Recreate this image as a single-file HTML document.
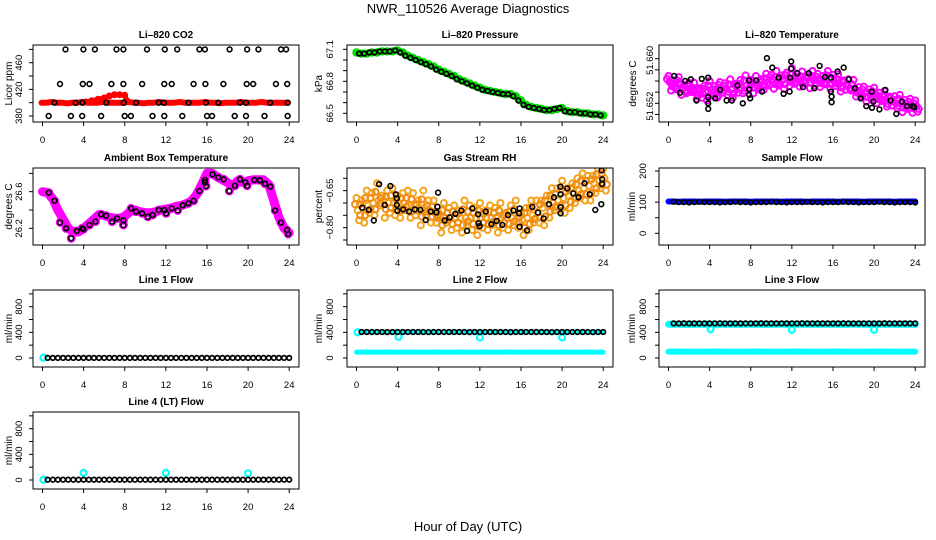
<!DOCTYPE html>
<html><head><meta charset="utf-8"><title>NWR_110526 Average Diagnostics</title>
<style>
html,body{margin:0;padding:0;background:#fff;}
svg{display:block;font-family:"Liberation Sans",Arial,sans-serif;}
</style></head>
<body>
<svg id="chart" width="936" height="540" viewBox="0 0 936 540" xmlns="http://www.w3.org/2000/svg">
<rect x="0" y="0" width="936" height="540" fill="#fff"/>
<text x="468" y="13" font-size="13" text-anchor="middle">NWR_110526  Average Diagnostics</text>
<text x="468" y="531" font-size="13" text-anchor="middle">Hour of Day (UTC)</text>
</svg>
<script>
// ---------- data ----------
const halfHours = [0,0.5,1,1.5,2,2.5,3,3.5,4,4.5,5,5.5,6,6.5,7,7.5,8,8.5,9,9.5,10,10.5,11,11.5,12,12.5,13,13.5,14,14.5,15,15.5,16,16.5,17,17.5,18,18.5,19,19.5,20,20.5,21,21.5,22,22.5,23,23.5,24];
const flowHours = [0.5,1,1.5,2,2.5,3,3.5,4,4.5,5,5.5,6,6.5,7,7.5,8,8.5,9,9.5,10,10.5,11,11.5,12,12.5,13,13.5,14,14.5,15,15.5,16,16.5,17,17.5,18,18.5,19,19.5,20,20.5,21,21.5,22,22.5,23,23.5,24];
const xTicks = [0,4,8,12,16,20,24];

// CO2
const co2RedBase = [400,400,401,400,400,399,400,400,401,400,400,400,401,400,400,400,400,401,400,400,399,400,400,401,400,400,400,401,400,400,400,400,401,400,400,399,400,400,400,401,400,400,400,401,400,400,400,400,400];
const co2BumpHours = [4.2,4.8,5.4,6,6.5,7,7.5,8,8.2];
const co2BumpVals = [401,403,405,407,410,412,412,411,403];
const co2BlackHours = [2.24,3.98,5.1,7.2,7.87,10.17,11.9,13.1,15.26,15.8,18.2,19.9,21,23.2,23.7, 1.7,3.92,4.57,6.7,7.87,9.7,11.85,12.57,14.7,15.85,17.6,19.86,20.5,22.7,23.8, 1.16,3.23,3.88,6.2,7.9,9.1,11.3,11.8,14.2,15.9,17.1,19.2,19.8,22.15,23.85, 0.6,2.76,3.86,5.7,8.0,8.6,10.7,11.85,13.6,16,16.5,18.7,19.8,21.6,23.85];
const co2BlackVals = [480,480,480,480,480,480,480,480,480,480,480,480,480,480,480, 428,428,428,428,428,428,428,428,428,428,428,428,428,428,428, 400,400,400,400,400,400,400,400,400,400,400,400,400,400,400, 380,380,380,380,380,380,380,380,380,380,380,380,380,380,380];

// Pressure
const presVals = [67.07,67.06,67.06,67.07,67.07,67.08,67.08,67.08,67.09,67.07,67.04,67.02,67.00,66.98,66.96,66.94,66.91,66.89,66.87,66.85,66.82,66.80,66.78,66.76,66.74,66.72,66.71,66.70,66.69,66.68,66.68,66.66,66.62,66.58,66.56,66.55,66.54,66.53,66.53,66.54,66.55,66.52,66.51,66.51,66.50,66.50,66.49,66.49,66.48];

// Li-820 temperature
const tempA = [51.6569,51.6561,51.6567,51.6553,51.6557,51.6557,51.6547,51.6552,51.6560,51.6551,51.6558,51.6556,51.6563,51.6555,51.6562,51.6570,51.6562,51.6569,51.6563,51.6573,51.6571,51.6578,51.6570,51.6575,51.6583,51.6573,51.6577,51.6569,51.6578,51.6573,51.6569,51.6578,51.6571,51.6572,51.6561,51.6563,51.6562,51.6549,51.6550,51.6545,51.6548,51.6539,51.6542,51.6532,51.6533,51.6535,51.6526,51.6528,51.6525];
const tempB = [51.6543,51.6545,51.6535,51.6538,51.6540,51.6528,51.6530,51.6525,51.6534,51.6530,51.6539,51.6535,51.6530,51.6539,51.6538,51.6544,51.6538,51.6545,51.6544,51.6552,51.6546,51.6552,51.6546,51.6551,51.6555,51.6550,51.6556,51.6547,51.6552,51.6549,51.6554,51.6546,51.6551,51.6541,51.6544,51.6543,51.6532,51.6531,51.6523,51.6527,51.6520,51.6524,51.6514,51.6516,51.6511,51.6504,51.6510,51.6503,51.6505];
const tempC = [51.6558,51.6550,51.6555,51.6543,51.6546,51.6539,51.6544,51.6540,51.6544,51.6538,51.6548,51.6546,51.6545,51.6552,51.6547,51.6552,51.6558,51.6551,51.6559,51.6557,51.6563,51.6556,51.6562,51.6566,51.6561,51.6564,51.6560,51.6567,51.6561,51.6563,51.6556,51.6563,51.6560,51.6555,51.6559,51.6547,51.6546,51.6536,51.6540,51.6535,51.6535,51.6529,51.6524,51.6530,51.6520,51.6521,51.6515,51.6518,51.6515];
const tempBlackHours = [0.55,1.13,1.62,2.17,2.72,3.24,3.86,3.86,3.86,3.86,5.03,4.54,5.65,6.17,6.7,7.23,7.85,7.85,7.85,7.95,8.53,9.1,9.57,10.1,10.71,11.2,11.78,11.84,11.94,11.94,12.52,13.08,13.63,14.18,14.7,15.22,15.8,15.8,15.87,15.87,16.45,17.04,17.55,18.14,18.7,19.24,19.77,19.8,19.93,20.52,21.1,21.6,22.16,22.7,23.2,23.76,23.9];
const tempBlackVals = [51.6569,51.6539,51.6560,51.6563,51.6525,51.6564,51.6566,51.6531,51.6520,51.6510,51.6544,51.6529,51.6525,51.6525,51.6552,51.6520,51.6561,51.6545,51.6535,51.6529,51.6561,51.6541,51.6601,51.6584,51.6566,51.6537,51.6541,51.6566,51.6582,51.6595,51.6574,51.6549,51.6574,51.6547,51.6587,51.6567,51.6566,51.6541,51.6532,51.6522,51.6577,51.6584,51.6563,51.6547,51.6529,51.6515,51.6541,51.6512,51.6523,51.6509,51.6544,51.6525,51.6501,51.6523,51.6515,51.6515,51.6513];

// Ambient box temperature
const ambBand = [26.60,26.59,26.52,26.40,26.30,26.20,26.16,26.16,26.20,26.25,26.30,26.35,26.34,26.32,26.31,26.31,26.33,26.38,26.40,26.38,26.37,26.37,26.38,26.40,26.41,26.42,26.44,26.45,26.47,26.50,26.57,26.68,26.80,26.80,26.76,26.73,26.70,26.66,26.72,26.70,26.72,26.73,26.73,26.73,26.68,26.50,26.32,26.20,26.15];
const ambBlackHours = [0.62,1.17,1.72,2.3,2.79,3.34,3.86,3.98,4.57,5.15,5.7,6.19,6.77,7.26,7.87,7.87,8.62,9.1,9.69,10.24,10.72,11.3,11.86,12.02,12.57,13.15,13.63,14.19,14.71,15.26,15.81,15.81,15.9,16.55,17.1,17.62,18.17,18.72,19.21,19.73,19.9,20.6,21.15,21.64,22.16,22.64,23.2,23.78,23.9];
const ambBlackVals = [26.589,26.502,26.265,26.2,26.091,26.171,26.2,26.189,26.236,26.273,26.353,26.338,26.273,26.309,26.287,26.236,26.418,26.382,26.364,26.327,26.345,26.4,26.4,26.364,26.418,26.396,26.451,26.473,26.502,26.607,26.727,26.702,26.662,26.789,26.756,26.735,26.607,26.665,26.735,26.702,26.665,26.727,26.724,26.687,26.655,26.396,26.262,26.182,26.138];

// Gas stream RH
const rhA = [-0.68,-0.69,-0.65,-0.66,-0.62,-0.67,-0.65,-0.64,-0.67,-0.66,-0.65,-0.66,-0.69,-0.65,-0.69,-0.69,-0.74,-0.70,-0.72,-0.71,-0.73,-0.69,-0.71,-0.72,-0.70,-0.73,-0.71,-0.72,-0.70,-0.74,-0.71,-0.69,-0.74,-0.72,-0.69,-0.69,-0.69,-0.67,-0.64,-0.64,-0.61,-0.64,-0.62,-0.60,-0.58,-0.59,-0.59,-0.56,-0.56];
const rhB = [-0.77,-0.78,-0.74,-0.75,-0.71,-0.76,-0.74,-0.75,-0.76,-0.73,-0.76,-0.75,-0.79,-0.75,-0.78,-0.78,-0.82,-0.78,-0.81,-0.80,-0.82,-0.79,-0.81,-0.83,-0.80,-0.81,-0.79,-0.82,-0.80,-0.81,-0.79,-0.80,-0.83,-0.81,-0.78,-0.78,-0.79,-0.76,-0.73,-0.73,-0.74,-0.72,-0.70,-0.68,-0.69,-0.69,-0.66,-0.64,-0.65];
const rhC = [-0.73,-0.72,-0.71,-0.70,-0.69,-0.69,-0.70,-0.70,-0.70,-0.70,-0.71,-0.71,-0.72,-0.72,-0.73,-0.74,-0.76,-0.76,-0.76,-0.76,-0.76,-0.76,-0.76,-0.76,-0.76,-0.76,-0.76,-0.76,-0.76,-0.76,-0.76,-0.76,-0.77,-0.76,-0.75,-0.74,-0.72,-0.71,-0.70,-0.69,-0.68,-0.67,-0.66,-0.65,-0.64,-0.63,-0.62,-0.61,-0.60];
const rhBlackHours = [0.55,1.2,1.68,2.2,2.75,3.3,3.82,3.92,3.92,3.98,4.54,5.12,5.67,6.22,6.73,7.22,7.77,7.87,7.94,8.58,9.07,9.62,10.2,10.76,11.27,11.83,11.89,11.98,12.57,13.12,13.64,14.19,14.74,15.26,15.81,15.87,15.87,16.59,17.1,17.66,18.2,18.73,19.21,19.83,19.85,19.85,19.85,20.5,21.09,21.6,22.19,22.68,23.23,23.81,23.88,23.9,23.84];
const rhBlackVals = [-0.719,-0.728,-0.771,-0.624,-0.708,-0.631,-0.665,-0.681,-0.708,-0.732,-0.726,-0.735,-0.726,-0.728,-0.769,-0.735,-0.738,-0.715,-0.658,-0.771,-0.759,-0.744,-0.731,-0.813,-0.722,-0.746,-0.782,-0.794,-0.735,-0.786,-0.773,-0.789,-0.749,-0.731,-0.742,-0.722,-0.796,-0.811,-0.716,-0.739,-0.763,-0.705,-0.677,-0.634,-0.665,-0.717,-0.742,-0.641,-0.661,-0.677,-0.620,-0.665,-0.728,-0.705,-0.623,-0.604,-0.568];

// Sample flow
const sampleBand = [102,102,101,102,102,102,101,102,102,102,102,101,102,102,102,102,101,102,102,102,102,102,101,102,102,102,102,101,102,102,102,102,102,101,102,102,102,102,101,102,102,102,102,102,101,102,102,102,102];
const sampleBlack = [101,100,100,99,100,101,100,100,100,99,100,100,101,100,100,99,100,100,100,101,100,100,99,100,100,100,101,100,100,99,100,100,100,101,100,100,99,100,100,100,101,100,100,99,100,100,100,99];

// Line flows
const line1Black = [2,2,2,2,2,2,2,2,2,2,2,2,2,2,2,2,2,2,2,2,2,2,2,2,2,2,2,2,2,2,2,2,2,2,2,2,2,2,2,2,2,2,2,2,2,2,2,2];
const line1CyanHours = [0.1];
const line1CyanVals = [4];
const line2Black = [405,405,406,405,405,404,405,405,405,406,405,405,405,404,405,405,405,406,405,405,405,404,405,405,405,406,405,405,405,404,405,405,405,406,405,405,405,404,405,405,405,406,405,405,405,404,405,405];
const line2CyanLow = [92,92,93,92,92,92,93,92,92,92,93,92,92,92,92,93,92,92,92,92,93,92,92,92,92,93,92,92,92,92,93,92,92,92,92,93,92,92,92,92,93,92,92,92,92,93,92,92,92];
const line2CyanHours = [0.1,4.1,12.0,20.0];
const line2CyanVals = [400,330,320,320];
const line3Black = [540,540,541,540,540,539,540,540,540,541,540,540,540,539,540,540,540,541,540,540,540,539,540,540,540,541,540,540,540,539,540,540,540,541,540,540,540,539,540,540,540,541,540,540,540,539,540,540];
const line3CyanHigh = [525,526,525,525,524,525,526,525,525,524,525,526,525,525,524,525,526,525,525,524,525,526,525,525,524,525,526,525,525,524,525,526,525,525,524,525,526,525,525,524,525,526,525,525,524,525,526,525,525];
const line3CyanLow = [100,100,101,100,100,99,100,100,100,101,100,100,100,99,100,100,100,101,100,100,100,99,100,100,100,101,100,100,100,99,100,100,100,101,100,100,100,99,100,100,100,101,100,100,100,99,100,100,100];
const line3CyanHours = [4.1,12.0,20.0];
const line3CyanVals = [450,440,440];
const line4Black = [4,4,4,4,4,4,4,4,4,4,4,4,4,4,4,4,4,4,4,4,4,4,4,4,4,4,4,4,4,4,4,4,4,4,4,4,4,4,4,4,4,4,4,4,4,4,4,4];
const line4CyanHours = [0.1,4.0,12.0,20.0];
const line4CyanVals = [4,110,110,105];

// ---------- layout ----------
const NS = 'http://www.w3.org/2000/svg';
const svg = document.getElementById('chart');
const rowTop = [45,168,290,412];
const colLeft = [33,347,659];
const PW = 266, PH = 77;

function el(tag, attrs, parent){
  const e = document.createElementNS(NS, tag);
  for (const k in attrs) e.setAttribute(k, attrs[k]);
  (parent || svg).appendChild(e);
  return e;
}

function makePanel(p){
  const g = el('g', {});
  
  
  const L = colLeft[p.c], T = rowTop[p.r], B = T + PH;
  p.g = g;
  p.x = h => L + 9.5 + h * 10.28;
  p.y = v => T + p.y1 + (v - p.v1) * (p.y2 - p.y1) / (p.v2 - p.v1);
  const cp = el('clipPath', {id: 'clip-' + p.name}, g);
  el('rect', {x: L, y: T, width: PW, height: PH}, cp);
  p.plot = el('g', {'clip-path': 'url(#clip-' + p.name + ')'}, g);
  
  
  const box = el('rect', {x: L, y: T, width: PW, height: PH, fill: 'none', stroke: '#000', 'stroke-width': 1}, g);
  
  
  const title = el('text', {x: L + PW / 2, y: T - 7, 'font-size': 10, 'font-weight': 'bold', 'text-anchor': 'middle'}, g);
  title.textContent = p.title;
  
  
  xTicks.forEach(t => {
    const x = p.x(t);
    const tk = el('line', {x1: x, x2: x, y1: B, y2: B + 4, stroke: '#000', 'stroke-width': 1}, g);
    
    
    const lb = el('text', {x: x, y: B + 21, 'font-size': 9.5, 'text-anchor': 'middle'}, g);
    lb.textContent = String(t);
    
    
  });
  p.ticks.forEach(t => {
    const y = p.y(t);
    const tk = el('line', {x1: L - 4, x2: L, y1: y, y2: y, stroke: '#000', 'stroke-width': 1}, g);
    
    
  });
  p.labels.forEach((lv, i) => {
    const y = p.y(lv);
    const lb = el('text', {transform: 'translate(' + (L - p.labOff) + ',' + y + ') rotate(-90)', 'font-size': 9.5, 'text-anchor': 'middle'}, g);
    lb.textContent = p.labelText[i];
    
    
  });
  const yt = el('text', {transform: 'translate(' + (L - p.titleOff) + ',' + (T + PH / 2) + ') rotate(-90)', 'font-size': 10, 'text-anchor': 'middle'}, g);
  yt.textContent = p.ylab;
  
  
  return p;
}

function band(p, hours, vals, color, w, name){
  const pts = hours.map((h, i) => p.x(h).toFixed(1) + ',' + p.y(vals[i]).toFixed(1)).join(' ');
  const pl = el('polyline', {points: pts, fill: 'none', stroke: color, 'stroke-width': w, 'stroke-linejoin': 'round', 'stroke-linecap': 'round'}, p.plot);
  
  
}
function points(p, hours, vals, color, r, sw, name){
  hours.forEach((h, i) => {
    const c = el('circle', {cx: p.x(h).toFixed(1), cy: p.y(vals[i]).toFixed(1), r: r, fill: 'none', stroke: color, 'stroke-width': sw}, p.plot);
    
    
  });
}

// ---------- panels ----------
const pCO2 = makePanel({name: 'co2', r: 0, c: 0, title: 'Li\u2013820 CO2', ylab: 'Licor ppm', v1: 380, y1: 71, v2: 460, y2: 17.7,
  ticks: [380,400,420,440,460,480], labels: [380,420,460], labelText: ['380','420','460'], labOff: 11, titleOff: 21});
band(pCO2, halfHours.map(h => h * 0.995 - 0.1), co2RedBase, '#ff0000', 6, 'co2-red-series');
band(pCO2, co2BumpHours, co2BumpVals, '#ff0000', 5, 'co2-red-bump');
points(pCO2, co2BumpHours, co2BumpVals, '#ff0000', 2.5, 2, 'co2-red-point');
points(pCO2, co2BlackHours, co2BlackVals, '#000', 2.4, 1.6, 'co2-black-point');

const pPres = makePanel({name: 'pressure', r: 0, c: 1, title: 'Li\u2013820 Pressure', ylab: 'kPa', v1: 67.1, y1: 4.3, v2: 66.5, y2: 68.3,
  ticks: [66.5,66.6,66.7,66.8,66.9,67.0,67.1], labels: [66.5,66.8,67.1], labelText: ['66.5','66.8','67.1'], labOff: 14, titleOff: 25});
band(pPres, halfHours, presVals, '#00e000', 6, 'pressure-green-series');
points(pPres, halfHours, presVals, '#00e000', 3.2, 2, 'pressure-green-point');
points(pPres, flowHours.map(h => h - 0.25), presVals.slice(1), '#000', 2.3, 1.8, 'pressure-black-point');

const pTemp = makePanel({name: 'li820-temperature', r: 0, c: 2, title: 'Li\u2013820 Temperature', ylab: 'degrees C', v1: 51.660, y1: 13.7, v2: 51.652, y2: 58.3,
  ticks: [51.650,51.652,51.654,51.656,51.658,51.660], labels: [51.6515,51.6597], labelText: ['51.652','51.660'], labOff: 6, titleOff: 23});
points(pTemp, halfHours, tempA, '#ff00ff', 3, 2, 'temperature-magenta-point');
points(pTemp, halfHours.map(h => h + 0.25), tempB, '#ff00ff', 3, 2, 'temperature-magenta-point');
points(pTemp, halfHours.map(h => h + 0.12), tempC, '#ff00ff', 3, 2, 'temperature-magenta-point');
points(pTemp, halfHours.map(h => h - 0.15), tempC.map((v, i) => (v + tempA[i]) / 2), '#ff00ff', 3, 2, 'temperature-magenta-point');
points(pTemp, halfHours.map(h => h + 0.35), tempC.map((v, i) => (v + tempB[i]) / 2), '#ff00ff', 3, 2, 'temperature-magenta-point');
points(pTemp, tempBlackHours, tempBlackVals, '#000', 2.4, 1.6, 'temperature-black-point');

const pAmb = makePanel({name: 'ambient-box-temperature', r: 1, c: 0, title: 'Ambient Box Temperature', ylab: 'degrees C', v1: 26.6, y1: 23.67, v2: 26.2, y2: 60.33,
  ticks: [26.2,26.4,26.6,26.8], labels: [26.2,26.6], labelText: ['26.2','26.6'], labOff: 11, titleOff: 21});
band(pAmb, halfHours, ambBand, '#ff00ff', 9, 'ambient-magenta-series');
points(pAmb, ambBlackHours, ambBlackVals, '#ff00ff', 3.5, 2, 'ambient-magenta-point');
points(pAmb, ambBlackHours, ambBlackVals, '#000', 2.4, 1.6, 'ambient-black-point');

const pRH = makePanel({name: 'gas-stream-rh', r: 1, c: 1, title: 'Gas Stream RH', ylab: 'percent', v1: -0.60, y1: 10.3, v2: -0.85, y2: 72,
  ticks: [-0.85,-0.80,-0.75,-0.70,-0.65,-0.60], labels: [-0.80,-0.65], labelText: ['\u22120.80','\u22120.65'], labOff: 14, titleOff: 25});
points(pRH, halfHours, rhA, '#f4a21a', 3, 2, 'rh-orange-point');
points(pRH, halfHours.map(h => h + 0.25), rhB, '#f4a21a', 3, 2, 'rh-orange-point');
points(pRH, halfHours.map(h => h + 0.12), rhC, '#f4a21a', 3, 2, 'rh-orange-point');
points(pRH, halfHours.map(h => h - 0.15), rhC.map((v, i) => (v + rhA[i]) / 2), '#f08a10', 3, 2, 'rh-orange-point');
points(pRH, halfHours.map(h => h + 0.35), rhC.map((v, i) => (v + rhB[i]) / 2), '#f08a10', 3, 2, 'rh-orange-point');
points(pRH, rhBlackHours, rhBlackVals, '#000', 2.4, 1.6, 'rh-black-point');

const pSample = makePanel({name: 'sample-flow', r: 1, c: 2, title: 'Sample Flow', ylab: 'ml/min', v1: 200, y1: 3, v2: 0, y2: 65.3,
  ticks: [0,50,100,150,200], labels: [0,100,200], labelText: ['0','100','200'], labOff: 13, titleOff: 24});
band(pSample, halfHours, sampleBand, '#0000ff', 6, 'sample-flow-blue-series');
points(pSample, flowHours, sampleBlack, '#000', 2.3, 1.6, 'sample-flow-black-point');

const flowCfg = {ylab: 'ml/min', v1: 0, y1: 68, v2: 800, y2: 16.7, ticks: [0,200,400,600,800,1000], labels: [0,400,800], labelText: ['0','400','800'], titleOff: 21};

const pL1 = makePanel(Object.assign({}, flowCfg, {name: 'line-1-flow', r: 2, c: 0, title: 'Line 1 Flow', labOff: 11}));
points(pL1, line1CyanHours, line1CyanVals, '#00ffff', 3, 2.2, 'line1-cyan-point');
points(pL1, flowHours, line1Black, '#000', 2.3, 1.7, 'line1-black-point');

const pL2 = makePanel(Object.assign({}, flowCfg, {name: 'line-2-flow', r: 2, c: 1, title: 'Line 2 Flow', labOff: 14, titleOff: 25}));
band(pL2, halfHours, line2CyanLow, '#00ffff', 5, 'line2-cyan-low-series');
band(pL2, flowHours, line2Black, '#00ffff', 5, 'line2-cyan-high-series');
points(pL2, line2CyanHours, line2CyanVals, '#00ffff', 3, 2.2, 'line2-cyan-point');
points(pL2, flowHours, line2Black, '#000', 2.3, 1.7, 'line2-black-point');

const pL3 = makePanel(Object.assign({}, flowCfg, {name: 'line-3-flow', r: 2, c: 2, title: 'Line 3 Flow', labOff: 13, titleOff: 24}));
band(pL3, halfHours, line3CyanLow, '#00ffff', 6, 'line3-cyan-low-series');
band(pL3, halfHours, line3CyanHigh, '#00ffff', 7, 'line3-cyan-high-series');
points(pL3, line3CyanHours, line3CyanVals, '#00ffff', 3, 2.2, 'line3-cyan-point');
points(pL3, flowHours, line3Black, '#000', 2.3, 1.7, 'line3-black-point');

const pL4 = makePanel(Object.assign({}, flowCfg, {name: 'line-4-lt-flow', r: 3, c: 0, title: 'Line 4 (LT) Flow', labOff: 11}));
points(pL4, line4CyanHours, line4CyanVals, '#00ffff', 3, 2.2, 'line4-cyan-point');
points(pL4, flowHours, line4Black, '#000', 2.3, 1.7, 'line4-black-point');
</script>
</body></html>
